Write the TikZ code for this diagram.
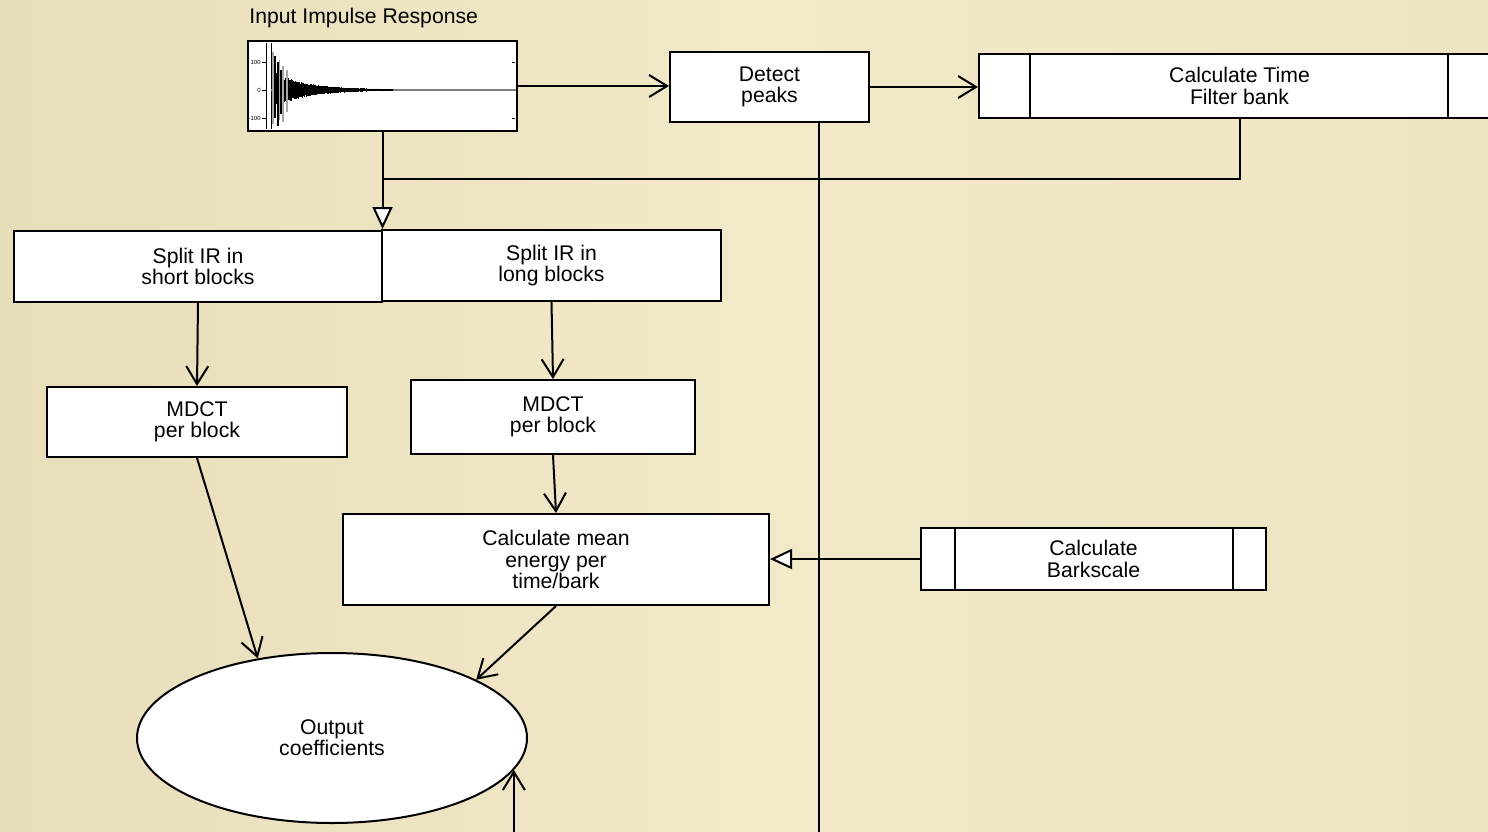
\documentclass[tikz,border=0pt]{standalone}
\usepackage{fontspec}
\setmainfont{Liberation Sans}
\usetikzlibrary{arrows.meta,shapes.geometric,calc}
\definecolor{bgL}{HTML}{E8DDB9}
\definecolor{bgM}{HTML}{F2E9C9}
\definecolor{bgR}{HTML}{EEE4C2}
\begin{document}
\begin{tikzpicture}[x=0.5pt,y=-0.5pt,
  box/.style={draw,line width=1pt,fill=white,align=center,inner sep=0pt,
    font=\fontsize{10.6}{10.6}\selectfont},
  conn/.style={line width=1pt},
  arr/.style={conn,-{Straight Barb[length=9pt,width=11pt,line width=1pt]}},
  tri/.style={conn,-{Triangle[open,length=11pt,width=10pt,fill=white,line width=1pt]}},
  tick/.style={font=\fontsize{3}{3}\selectfont,inner sep=0pt,anchor=east}
]
\useasboundingbox (0,0) rectangle (1488,831);
\clip (0,0) rectangle (1488,831);
\shade[left color=bgL,right color=bgR,middle color=bgM] (0,0) rectangle (1488,831);

% title and input image
\node[anchor=west,inner sep=0pt,font=\fontsize{10.6}{10.6}\selectfont] (title) at (249,18) {Input Impulse Response};
\node[draw,line width=1pt,fill=white,minimum width=134.5pt,minimum height=45pt,inner sep=0pt] (img) at (382.5,86) {};
\draw[line width=0.4pt] (266,43) -- (266,129) (271,43) -- (271,129);
\draw[gray,line width=0.7pt] (271,90) -- (516,90);
\draw[line width=0.3pt] (512,62) -- (515,62) (512,118) -- (515,118) (262,62)--(266,62) (262,90)--(266,90) (262,118)--(266,118);
\node[tick] (t1) at (261,62) {100};
\node[tick] (t2) at (261,90) {0};
\node[tick] (t3) at (261,118) {-100};
\pgfmathsetseed{11}
\foreach \i in {0,...,400}{
  \pgfmathsetmacro{\xx}{272+\i*0.3}
  \pgfmathsetmacro{\env}{19*exp(-\i*0.3/30)+0.8}
  \pgfmathsetmacro{\up}{\env*(0.6+0.4*rnd)}
  \pgfmathsetmacro{\dn}{\env*(0.6+0.4*rnd)}
  \draw[line width=0.4pt] (\xx,90-\up) -- (\xx,90+\dn);
}
\draw[gray!70,line width=0.6pt] (273,52) -- (273,124) (279.5,60) -- (279.5,120) (283,66) -- (283,122) (287,70) -- (287,112);
\draw[line width=0.6pt] (275,56) -- (275,118) (278,62) -- (278,126) (281,70) -- (281,114);

% boxes
\node[box,minimum width=99.5pt,minimum height=35pt] (detect) at (769.5,87) {Detect\\peaks};
\node[box,minimum width=260.5pt,minimum height=32pt] (ctime) at (1239.5,86) {Calculate Time\\Filter bank};
\draw[line width=1pt] ($(ctime.north west)+(52,0)$) -- ($(ctime.south west)+(52,0)$);
\draw[line width=1pt] ($(ctime.north west)+(470,0)$) -- ($(ctime.south west)+(470,0)$);

\node[box,minimum width=184pt,minimum height=35.5pt] (splitS) at (198,266.5) {Split IR in\\short blocks};
\node[box,minimum width=169.5pt,minimum height=35.5pt] (splitL) at (551.5,265.5) {Split IR in\\long blocks};
\node[box,minimum width=150pt,minimum height=35pt] (mdctL) at (197,422) {MDCT\\per block};
\node[box,minimum width=142pt,minimum height=37pt] (mdctR) at (553,417) {MDCT\\per block};
\node[box,minimum width=213pt,minimum height=45.5pt] (mean) at (556,559.5) {Calculate mean\\energy per\\time/bark};
\node[box,minimum width=172.5pt,minimum height=31pt] (bark) at (1093.5,559) {Calculate\\Barkscale};
\draw[line width=1pt] ($(bark.north west)+(35,0)$) -- ($(bark.south west)+(35,0)$);
\draw[line width=1pt] ($(bark.north east)+(-34,0)$) -- ($(bark.south east)+(-34,0)$);
\node[box,ellipse,minimum width=195pt,minimum height=85pt] (out) at (332,738) {Output\\coefficients};

% connectors
\coordinate (j) at (382.5,179);
\coordinate (dp) at (819,122);
\coordinate (bot) at (513,845);
\draw[arr] (img.east) -- (img.east -| detect.west);
\draw[arr] (detect.east) -- (detect.east -| ctime.west);
\draw[conn] (ctime.south) |- (j);
\draw[tri] (img.south) -- (img.south |- splitL.north);
\draw[conn] (dp) -- (dp |- bot);
\draw[arr] (splitS.south) -- (mdctL.north);
\draw[arr] (splitL.south) -- (mdctR.north);
\draw[arr] (mdctR.south) -- (mean.north);
\draw[arr] (mdctL.south) -- (out.133);
\draw[arr] (mean.south) -- (out.22);
\draw[arr] (out.-10 |- bot) -- (out.-10);
\draw[tri] (bark.west) -- (bark.west -| mean.east);
\end{tikzpicture}
\end{document}
